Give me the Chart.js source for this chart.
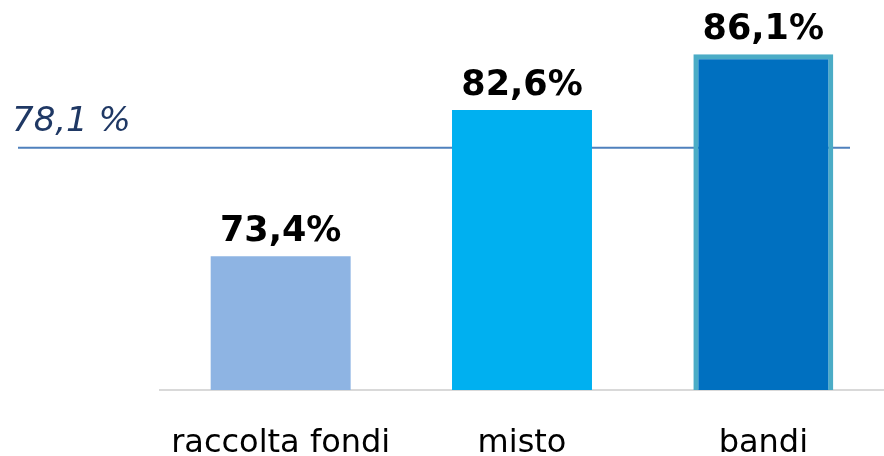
<!DOCTYPE html>
<html>
<head>
<meta charset="utf-8">
<script src="https://cdn.jsdelivr.net/npm/chart.js@4.4.1/dist/chart.umd.min.js"></script>
<style>
  html, body { margin: 0; padding: 0; background: #fff; }
  #wrap { width: 884px; height: 456px; }
</style>
</head>
<body>
<div id="wrap"><canvas id="chart" width="884" height="456"></canvas></div>
<script>
// === Data ===
const categories = ["raccolta fondi", "misto", "bandi"];
const values = [73.4, 82.6, 86.1];
const averageValue = 78.1;
const averageLabel = "78,1 %";

const barColors = ["#8eb4e3", "#00b0f0", "#0070c0"];
const barBorders = ["#8eb4e3", "#00b0f0", "#4bacc6"];
const barBorderWidths = [0, 0, 5];

const fmt = v => v.toFixed(1).replace(".", ",") + "%";

// average line + its label, drawn behind the bars
const averageLine = {
  id: "averageLine",
  beforeDatasetsDraw(chart) {
    const ctx = chart.ctx;
    const y = chart.scales.y2.getPixelForValue(averageValue);
    ctx.save();
    ctx.strokeStyle = "#4f81bd";
    ctx.lineWidth = 2;
    ctx.beginPath();
    ctx.moveTo(18, y);
    ctx.lineTo(850, y);
    ctx.stroke();
    ctx.fillStyle = "#1f3864";
    ctx.font = "italic 34px 'DejaVu Sans'";
    ctx.textAlign = "left";
    ctx.textBaseline = "alphabetic";
    ctx.fillText(averageLabel, 12, y - 17);
    ctx.restore();
  }
};

// value labels on top of the bars
const valueLabels = {
  id: "valueLabels",
  afterDatasetsDraw(chart) {
    const ctx = chart.ctx;
    const meta = chart.getDatasetMeta(0);
    ctx.save();
    ctx.fillStyle = "#000";
    ctx.font = "bold 35px 'DejaVu Sans'";
    ctx.textAlign = "center";
    ctx.textBaseline = "alphabetic";
    meta.data.forEach((bar, i) => {
      ctx.fillText(fmt(values[i]), bar.x, bar.y - 15);
    });
    ctx.restore();
  }
};

new Chart(document.getElementById("chart"), {
  type: "bar",
  data: {
    labels: categories,
    datasets: [{
      data: values,
      backgroundColor: barColors,
      borderColor: barBorders,
      borderWidth: barBorderWidths,
      borderSkipped: false,
      barPercentage: 0.58,
      categoryPercentage: 1
    }]
  },
  options: {
    responsive: false,
    animation: false,
    layout: { padding: { left: 160, right: 0, top: 24, bottom: 0 } },
    plugins: {
      legend: { display: false },
      tooltip: { enabled: false }
    },
    scales: {
      x: {
        grid: { display: false, drawTicks: false },
        border: { display: true, color: "#d9d9d9", width: 2 },
        ticks: {
          color: "#000",
          font: { family: "'DejaVu Sans'", size: 32 },
          padding: 34,
          autoSkip: false,
          maxRotation: 0
        },
        afterFit(scale) { scale.height = 66; }
      },
      y: {
        display: false,
        min: 65,
        max: 88
      },
      y2: {
        display: false,
        min: 65,
        max: 84.8
      }
    }
  },
  plugins: [averageLine, valueLabels]
});
</script>
</body>
</html>
